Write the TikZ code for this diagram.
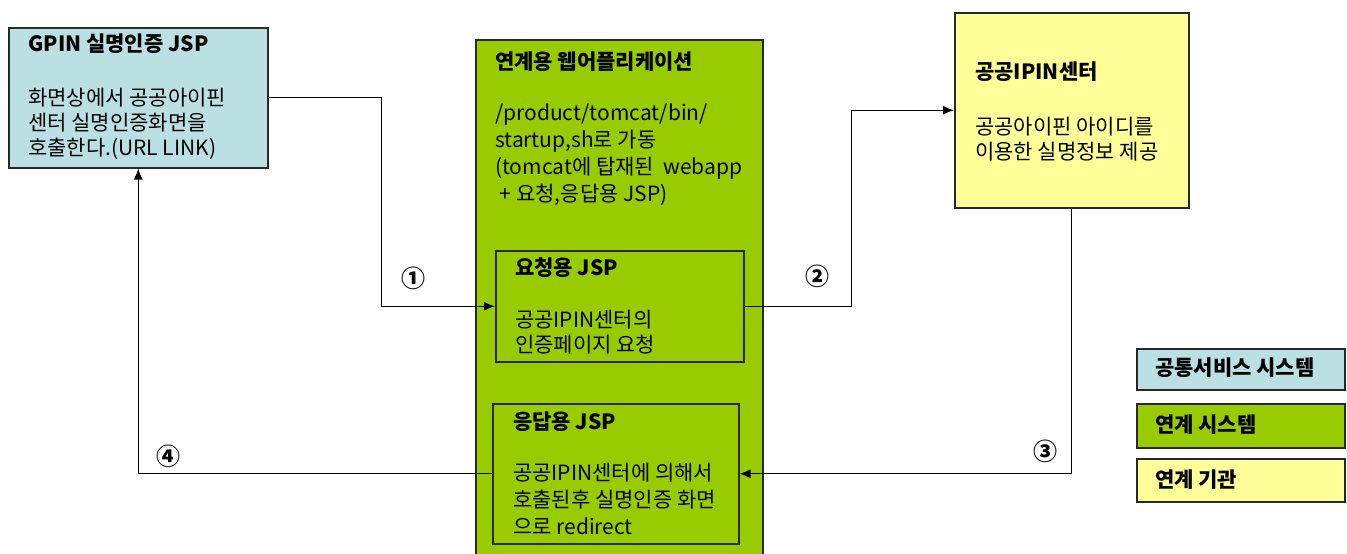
\documentclass[tikz,border=0pt]{standalone}
\usepackage{fontspec}
\setmainfont{Noto Sans CJK KR}
\usetikzlibrary{arrows.meta}
\definecolor{cblue}{RGB}{187,224,227}
\definecolor{cgreen}{RGB}{153,204,0}
\definecolor{cyellow}{RGB}{255,255,153}
\definecolor{cborder}{RGB}{40,40,40}
\tikzset{
  box/.style={draw=cborder, line width=1.5pt, inner sep=0pt, anchor=north west},
  txt/.style={anchor=north west, align=left, inner sep=0pt, font=\fontsize{21}{25}\selectfont},
  txtw/.style={anchor=north west, align=left, inner sep=0pt, font=\fontsize{21}{26.8}\selectfont},
  ttl/.style={anchor=west, inner sep=0pt, font=\fontsize{21}{25}\selectfont\bfseries},
  conn/.style={draw=black, line width=1.3pt},
  arr/.style={conn, -{Latex[length=11pt,width=9pt]}},
  num/.style={inner sep=0pt, font=\fontsize{24}{26}\selectfont\bfseries}
}
\begin{document}
\begin{tikzpicture}[x=1pt,y=-1pt]
\useasboundingbox (0,0) rectangle (1347,554);
% boxes
\node[box, fill=cblue, minimum width=259pt, minimum height=140pt] (gpin) at (8,27) {};
\node[box, fill=cgreen, minimum width=287pt, minimum height=530pt] (app) at (475,39) {};
\node[box, fill=cgreen, minimum width=248pt, minimum height=111pt] (req) at (495,250) {};
\node[box, fill=cgreen, minimum width=246pt, minimum height=140pt] (resp) at (492,403) {};
\node[box, fill=cyellow, minimum width=234pt, minimum height=195pt] (ipin) at (954,12) {};
% legend
\node[box, fill=cblue, minimum width=208pt, minimum height=41pt] (lg1) at (1136,348) {};
\node[box, fill=cgreen, minimum width=208pt, minimum height=44pt] (lg2) at (1136,403) {};
\node[box, fill=cyellow, minimum width=208pt, minimum height=43pt] (lg3) at (1136,458) {};
% texts
\node[ttl] (gpint) at (28,44) {GPIN 실명인증 JSP};
\node[txt] (gpinb) at (28,88) {화면상에서 공공아이핀\\센터 실명인증화면을\\호출한다.(URL LINK)};
\node[ttl] (appt) at (495,62) {연계용 웹어플리케이션};
\node[txtw] (appb) at (495,104) {/product/tomcat/bin/\\startup,sh로 가동\\(tomcat에 탑재된\ \ webapp\\\ + 요청,응답용 JSP)};
\node[ttl] (reqt) at (515,268) {요청용 JSP};
\node[txt] (reqb) at (515,310) {공공IPIN센터의\\인증페이지 요청};
\node[ttl] (respt) at (513,422) {응답용 JSP};
\node[txtw] (respb) at (513,463) {공공IPIN센터에 의해서\\호출된후 실명인증 화면\\으로 redirect};
\node[ttl] (ipint) at (975,72) {공공IPIN센터};
\node[txt] (ipinb) at (975,117) {공공아이핀 아이디를\\이용한 실명정보 제공};
\node[ttl] at (1155,368) {공통서비스 시스템};
\node[ttl] at (1155,425) {연계 시스템};
\node[ttl] at (1155,480) {연계 기관};
% connectors
\draw[arr] (gpin.east) -- ++(113,0) |- (req.west);
\draw[arr] (req.east) -- ++(107,0) |- (ipin.west);
\draw[arr] (ipin.south) |- (resp.east);
\draw[arr] (resp.west) -| (gpin.south);
% step numbers
\node[num] (n1) at (413,278) {①};
\node[num] (n2) at (817,276) {②};
\node[num] (n3) at (1045,451) {③};
\node[num] (n4) at (168,456) {④};
\end{tikzpicture}
\end{document}
